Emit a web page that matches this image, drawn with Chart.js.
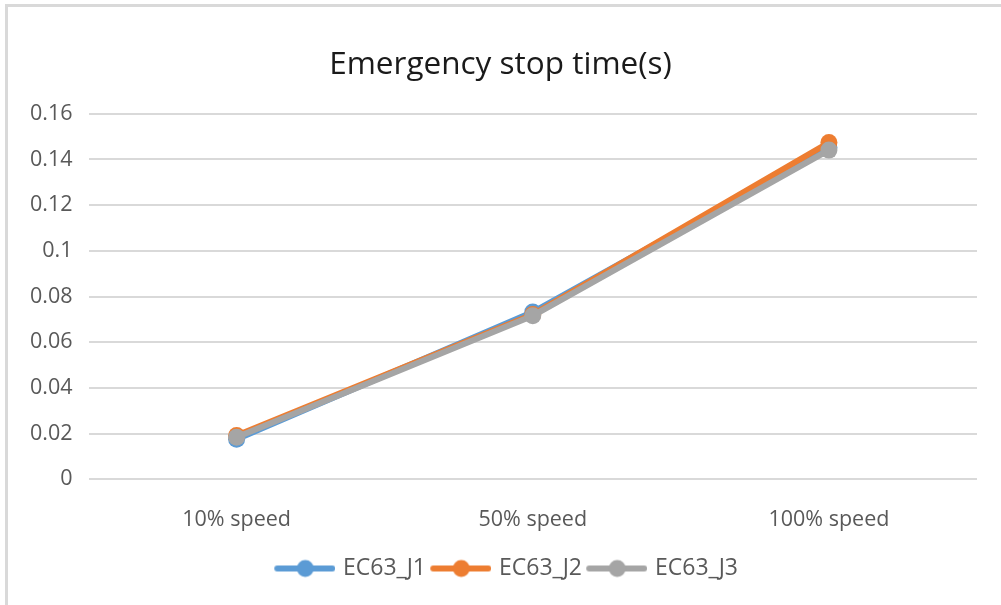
<!DOCTYPE html>
<html>
<head>
<meta charset="utf-8">
<script src="https://cdn.jsdelivr.net/npm/chart.js@4"></script>
<style>
  html, body { margin: 0; padding: 0; background: #fff; }
  #frame {
    position: absolute; left: 5px; top: 4px; width: 996px; height: 601px;
    border-left: 3px solid #d9d9d9; border-top: 3px solid #d9d9d9;
  }
  #chart { display: block; }
</style>
</head>
<body>
<div id="frame"><canvas id="chart" width="993" height="598"></canvas></div>
<script>
const categories = ["10% speed", "50% speed", "100% speed"];
const seriesNames = ["EC63_J1", "EC63_J2", "EC63_J3"];
const j1Values = [0.0175, 0.0732, 0.1452];
const j2Values = [0.0191, 0.0721, 0.1474];
const j3Values = [0.0184, 0.0716, 0.1441];
const seriesColors = ["#5B9BD5", "#ED7D31", "#A5A5A5"];

const fontFamily = "'Open Sans', 'Noto Sans', sans-serif";

// legend marker: short line with a dot in the middle, like the Excel one
// canvas is a bit wider than the box so the line sits closer to the text
function legendMarker(color) {
  const c = document.createElement("canvas");
  c.width = 64;
  c.height = 20;
  const g = c.getContext("2d");
  g.strokeStyle = color;
  g.lineWidth = 6;
  g.lineCap = "round";
  g.beginPath();
  g.moveTo(6, 10);
  g.lineTo(61, 10);
  g.stroke();
  g.fillStyle = color;
  g.beginPath();
  g.arc(34, 10, 8.5, 0, Math.PI * 2);
  g.fill();
  return c;
}

// title and legend sit a little right of the plot centre in the original
const nudgeBlocks = {
  id: "nudgeBlocks",
  afterLayout(chart) {
    if (chart.legend) { chart.legend.left += 11; chart.legend.right += 11; }
    if (chart.titleBlock) { chart.titleBlock.left += 5; chart.titleBlock.right += 5; }
  }
};

const allValues = [j1Values, j2Values, j3Values];
const datasets = seriesNames.map((name, i) => ({
  label: name,
  data: allValues[i],
  borderColor: seriesColors[i],
  backgroundColor: seriesColors[i],
  borderWidth: 6,
  pointRadius: 8.5,
  pointHoverRadius: 8.5,
  pointBorderWidth: 0,
  tension: 0,
  order: 3 - i
}));

const ctx = document.getElementById("chart").getContext("2d");
new Chart(ctx, {
  type: "line",
  data: { labels: categories, datasets: datasets },
  plugins: [nudgeBlocks],
  options: {
    responsive: false,
    animation: false,
    layout: { padding: { top: 39, left: 6, right: 24, bottom: 15 } },
    plugins: {
      title: {
        display: true,
        text: "Emergency stop time(s)",
        color: "#1a1a1a",
        font: { family: fontFamily, size: 31.5, weight: "normal" },
        padding: { top: 0, bottom: 30 }
      },
      legend: {
        position: "bottom",
        labels: {
          color: "#595959",
          font: { family: fontFamily, size: 23 },
          usePointStyle: true,
          pointStyleWidth: 56.5,
          boxHeight: 20,
          padding: 5,
          sort: (a, b) => a.datasetIndex - b.datasetIndex,
          generateLabels: function (chart) {
            const items = Chart.defaults.plugins.legend.labels.generateLabels(chart);
            items.forEach(it => { it.pointStyle = legendMarker(seriesColors[it.datasetIndex]); });
            return items;
          }
        }
      },
      tooltip: { enabled: false }
    },
    scales: {
      x: {
        offset: true,
        grid: { display: false },
        border: { display: false },
        ticks: { color: "#595959", font: { family: fontFamily, size: 21.5, lineHeight: 0.5 }, padding: 27 }
      },
      y: {
        min: 0,
        max: 0.16,
        grid: { color: "#d9d9d9", lineWidth: 2, drawTicks: false },
        border: { display: false },
        ticks: {
          stepSize: 0.02,
          color: "#595959",
          font: { family: fontFamily, size: 21.5 },
          padding: 16,
          callback: v => String(+v.toFixed(2))
        }
      }
    }
  }
});
</script>
</body>
</html>
